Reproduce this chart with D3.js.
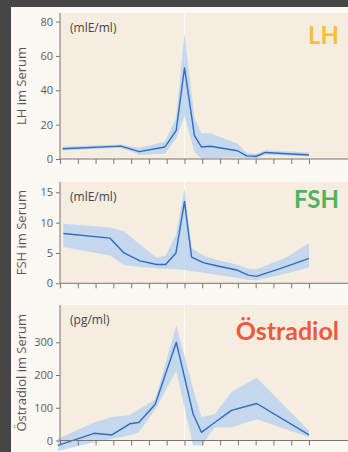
<!DOCTYPE html>
<html><head><meta charset="utf-8">
<script src="https://cdn.jsdelivr.net/npm/d3@7"></script>
<style>
html,body{margin:0;padding:0;background:#464646;}
svg{display:block;}
</style></head>
<body>
<svg id="c" width="348" height="452"></svg>
<script>
// ---- data ----
const xTicks = [0,1,2,3,4,5,6,7,8,9,10,11,12,13,14];

const lhX  = [0.15, 3.42, 4.46, 5.9, 6.53, 7.0, 7.56, 7.95, 8.46, 9.97, 10.5, 11.04, 11.55, 14.0];
const lhY  = [6.0, 7.5, 4.3, 7.0, 16.5, 53, 13.6, 7.0, 7.4, 4.8, 1.8, 1.6, 3.8, 2.3];
const lhLo = [5.0, 6.5, 2.5, 3.0, 12, 25, 4.0, 0.5, 0.5, 1.0, 0.5, 0.5, 2.5, 1.5];
const lhHi = [7.3, 8.5, 6.5, 10, 24, 73, 24, 15, 15, 9, 3.5, 3.0, 5.0, 4.0];
const lhTicks = [0, 20, 40, 60, 80];

const fshX  = [0.19, 2.8, 3.6, 4.5, 5.43, 5.94, 6.52, 7.0, 7.4, 8.05, 8.8, 9.93, 10.58, 11.05, 12.74, 14.0];
const fshY  = [8.2, 7.45, 5.0, 3.7, 3.1, 3.1, 5.0, 13.5, 4.3, 3.4, 2.9, 2.2, 1.35, 1.15, 2.8, 4.1];
const fshLo = [6.0, 4.6, 3.0, 2.7, 2.5, 2.4, 2.3, 2.2, 2.0, 1.8, 1.4, 0.9, 0.6, 0.5, 1.6, 2.6];
const fshHi = [9.8, 9.2, 8.6, 6.4, 4.2, 4.6, 8.0, 15.6, 5.8, 4.6, 3.9, 3.1, 2.4, 2.3, 4.3, 6.6];
const fshTicks = [0, 5, 10, 15];

const e2X  = [-0.12, 1.92, 2.92, 3.92, 4.43, 5.35, 6.54, 7.48, 7.95, 8.7, 9.64, 11.06, 14.0];
const e2Y  = [-15, 22, 17, 51, 55, 110, 300, 82, 25, 55, 92, 113, 17];
const e2Lo = [-32, -5, 5, 15, 25, 95, 212, -15, -15, 40, 40, 65, 10];
const e2Hi = [5, 55, 72, 78, 95, 125, 352, 160, 72, 80, 148, 192, 30];
const e2Ticks = [0, 100, 200, 300];

// ---- layout ----
const svg = d3.select("#c");
const W = 348, H = 452;
svg.append("rect").attr("x",0).attr("y",0).attr("width",W).attr("height",H).attr("fill","#464646");
svg.append("rect").attr("x",11).attr("y",7).attr("width",W-11).attr("height",H-7).attr("fill","#fcf8f3");

const x = d3.scaleLinear().domain([0,14]).range([60,309]);

const panels = [
  {xs:lhX, ys:lhY, lo:lhLo, hi:lhHi, ticks:lhTicks, dom:[0,85], rng:[159,13],
   ytitle:"LH  im Serum", unit:"(mlE/ml)", title:"LH", tcol:"#f9bd3a", tY:44, tSize:24},
  {xs:fshX, ys:fshY, lo:fshLo, hi:fshHi, ticks:fshTicks, dom:[0,16.7], rng:[283.3,182],
   ytitle:"FSH  im Serum", unit:"(mlE/ml)", title:"FSH", tcol:"#4db45c", tY:208, tSize:24},
  {xs:e2X, ys:e2Y, lo:e2Lo, hi:e2Hi, ticks:e2Ticks, dom:[0,414], rng:[440.5,305],
   ytitle:"Östradiol im Serum", unit:"(pg/ml)", title:"Östradiol", tcol:"#f0573f", tY:340, tSize:25}
];

panels.forEach(p => {
  const y = d3.scaleLinear().domain(p.dom).range(p.rng);
  const g = svg.append("g");
  const top = p.rng[1], bot = p.rng[0];
  // plot background
  g.append("rect").attr("x",x(0)).attr("y",top).attr("width",W-x(0)).attr("height",bot-top).attr("fill","#f5eee0");
  g.append("line").attr("x1",x(7)).attr("x2",x(7)).attr("y1",top).attr("y2",bot)
    .attr("stroke","#fdfaf5").attr("stroke-width",1.2);

  const idx = d3.range(p.xs.length);
  // band
  g.append("path")
    .attr("d", d3.area().x(i=>x(p.xs[i])).y0(i=>y(p.lo[i])).y1(i=>y(p.hi[i]))(idx))
    .attr("fill","#b3cff0").attr("fill-opacity",0.75);
  // line
  g.append("path")
    .attr("d", d3.line().x(i=>x(p.xs[i])).y(i=>y(p.ys[i]))(idx))
    .attr("fill","none").attr("stroke","#2d6cc0").attr("stroke-width",1.4).attr("stroke-linejoin","round");

  // y axis
  const ya = g.append("g").attr("transform",`translate(${x(0)},0)`)
    .call(d3.axisLeft(y).tickValues(p.ticks).tickSize(4).tickPadding(3).tickSizeOuter(0));
  ya.select(".domain").attr("d",`M0,${top}V${bot}`).attr("stroke","#7a7570");
  ya.selectAll(".tick line").attr("stroke","#7a7570");
  ya.selectAll("text").attr("fill","#5a5a5a").style("font-family","'Open Sans', sans-serif").style("font-size","11px");

  // x axis
  const xa = g.append("g").attr("transform",`translate(0,${bot})`)
    .call(d3.axisBottom(x).tickValues(xTicks).tickSize(5).tickFormat(""));
  xa.select(".domain").attr("d",`M${x(0)},0H${W}`).attr("stroke","#7a7570");
  xa.selectAll(".tick line").attr("stroke","#7a7570");

  // titles
  g.append("text").attr("transform",`translate(26,${(top+bot)/2}) rotate(-90)`)
    .attr("text-anchor","middle").attr("fill","#555")
    .style("font-family","'Open Sans', sans-serif").style("font-size","13px").text(p.ytitle);
  g.append("text").attr("x",70).attr("y",top+19).attr("fill","#444")
    .style("font-family","'Open Sans', sans-serif").style("font-size","12px").text(p.unit);
  g.append("text").attr("x",339).attr("y",p.tY).attr("text-anchor","end").attr("fill",p.tcol)
    .style("font-family","Lato, sans-serif").style("font-weight","bold").style("font-size",p.tSize+"px").text(p.title);
});
</script>
</body></html>
